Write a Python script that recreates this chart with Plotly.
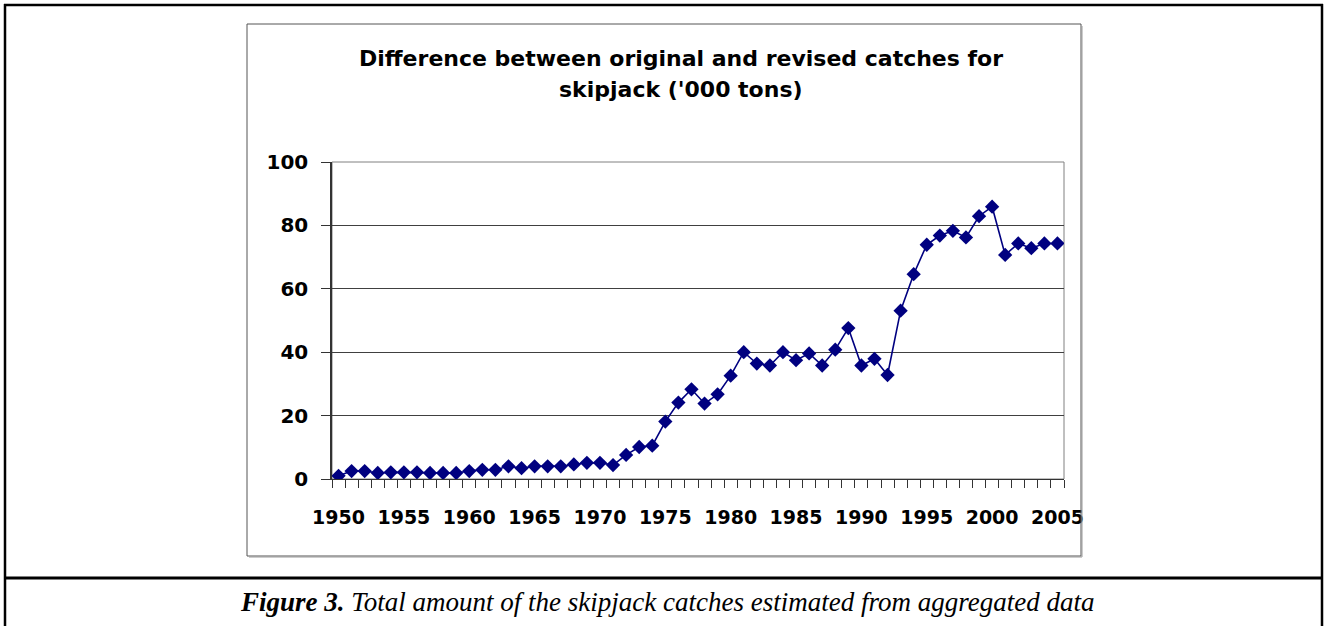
import plotly.graph_objects as go

years = list(range(1950, 2006))
difference = [1.0, 2.5, 2.5, 1.9, 2.1, 2.1, 2.1, 1.9, 1.9, 1.9,
              2.5, 2.9, 2.9, 4.0, 3.4, 4.0, 4.0, 4.0, 4.6, 5.1,
              5.1, 4.4, 7.6, 10.1, 10.5, 18.1, 24.1, 28.3, 23.8, 26.7,
              32.6, 40.0, 36.4, 35.8, 40.0, 37.5, 39.6, 35.8, 40.8, 47.6,
              35.8, 37.9, 32.8, 53.1, 64.6, 73.9, 76.8, 78.3, 76.2, 82.9,
              85.9, 70.7, 74.3, 72.8, 74.3, 74.3]
label_years = years[::5]
y_ticks = [0, 20, 40, 60, 80, 100]
title_lines = ["Difference between original and revised catches for", "skipjack ('000 tons)"]
caption_bold = "Figure 3."
caption_text = "Total amount of the skipjack catches estimated from aggregated data"

W, H = 1326, 626
L, R, T, B = 332, 1326 - 1064, 162, 626 - 479
PW, PH = W - L - R, H - T - B


def px(x):
    return (x - L) / PW


def py(y):
    return (H - B - y) / PH


NAVY = "#000080"
FONT = "DejaVu Sans"

fig = go.Figure()
fig.add_trace(go.Scatter(
    x=years, y=difference, mode="lines+markers",
    line=dict(color=NAVY, width=1.6),
    marker=dict(symbol="diamond", size=11, color=NAVY, line=dict(color=NAVY, width=0)),
    showlegend=False, hoverinfo="x+y",
))

boundaries = [y - 0.5 for y in years] + [years[-1] + 0.5]

fig.update_layout(
    width=W, height=H,
    margin=dict(l=L, r=R, t=T, b=B),
    paper_bgcolor="white", plot_bgcolor="white",
    xaxis=dict(
        range=[years[0] - 0.5, years[-1] + 0.5],
        tickmode="array", tickvals=label_years, ticktext=[str(v) for v in label_years],
        ticks="", ticklabelstandoff=21,
        tickfont=dict(family=FONT, size=19, color="black", weight="bold"),
        showgrid=False, zeroline=False,
        showline=True, linecolor="#333333", linewidth=1,
        minor=dict(tickmode="array", tickvals=boundaries, ticks="outside",
                   ticklen=8, tickcolor="#333333", tickwidth=1, showgrid=False),
        fixedrange=True,
    ),
    yaxis=dict(
        range=[0, 100], tickmode="array", tickvals=y_ticks,
        ticks="outside", ticklen=9, tickcolor="#333333", tickwidth=1,
        ticklabelstandoff=9,
        tickfont=dict(family=FONT, size=20, color="black", weight="bold"),
        showgrid=True, gridcolor="#404040", gridwidth=1,
        zeroline=False, showline=True, linecolor="#333333", linewidth=1.5,
        fixedrange=True,
    ),
)

shapes = []
shapes.append(dict(type="rect", xref="paper", yref="paper", x0=0, x1=1, y0=0, y1=1,
                   line=dict(color="#808080", width=1), layer="below"))
shapes.append(dict(type="rect", xref="paper", yref="paper",
                   x0=px(247), x1=px(1081), y0=py(556), y1=py(24),
                   line=dict(color="#555555", width=1)))
shapes.append(dict(type="line", xref="paper", yref="paper",
                   x0=px(1082), x1=px(1082), y0=py(557), y1=py(26),
                   line=dict(color="#999999", width=1)))
shapes.append(dict(type="line", xref="paper", yref="paper",
                   x0=px(249), x1=px(1082), y0=py(557), y1=py(557),
                   line=dict(color="#999999", width=1)))
shapes.append(dict(type="line", xref="paper", yref="paper",
                   x0=px(5), x1=px(5), y0=py(640), y1=py(4),
                   line=dict(color="black", width=2.5)))
shapes.append(dict(type="line", xref="paper", yref="paper",
                   x0=px(1322), x1=px(1322), y0=py(640), y1=py(4),
                   line=dict(color="black", width=2.5)))
shapes.append(dict(type="line", xref="paper", yref="paper",
                   x0=px(4), x1=px(1323), y0=py(5), y1=py(5),
                   line=dict(color="black", width=2.5)))
shapes.append(dict(type="line", xref="paper", yref="paper",
                   x0=px(4), x1=px(1323), y0=py(578), y1=py(578),
                   line=dict(color="black", width=3)))
fig.update_layout(shapes=shapes)

annotations = []
for text, ycen in zip(title_lines, [58, 89]):
    annotations.append(dict(text=text, xref="paper", yref="paper", x=px(681), y=py(ycen),
                            xanchor="center", yanchor="middle", showarrow=False,
                            font=dict(family=FONT, size=22, color="black", weight="bold")))
annotations.append(dict(
    text="<b><i>" + caption_bold + "</i></b><i> " + caption_text + "</i>",
    xref="paper", yref="paper", x=px(667), y=py(602),
    xanchor="center", yanchor="middle", showarrow=False,
    font=dict(family="Liberation Serif", size=27, color="black")))
fig.update_layout(annotations=annotations)

fig.write_html("out.html", config={"displayModeBar": False},
               post_script="document.body.style.margin='0';document.body.style.padding='0';document.body.style.overflow='hidden';")
